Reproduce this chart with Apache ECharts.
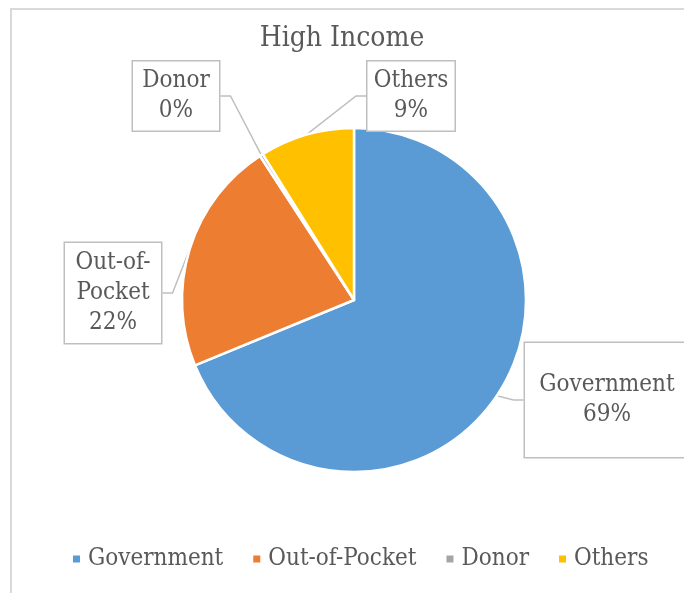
<!DOCTYPE html>
<html>
<head>
<meta charset="utf-8">
<script src="https://cdn.jsdelivr.net/npm/echarts@6/dist/echarts.min.js"></script>
<style>
html,body{margin:0;padding:0;background:#fff;}
#wrap{position:relative;width:684px;height:593px;overflow:hidden;}
#frame{position:absolute;left:10px;top:8px;width:700px;height:620px;border-left:2px solid #d9d9d9;border-top:2px solid #d9d9d9;box-sizing:border-box;}
#chart{position:absolute;left:0;top:0;width:684px;height:593px;}
</style>
</head>
<body>
<div id="wrap"><div id="frame"></div><div id="chart"></div></div>
<script>
var titleText = 'High Income';
var categories = ['Government', 'Out-of-Pocket', 'Donor', 'Others'];
var values = [68.8, 22.0, 0.3, 8.9];
var colors = ['#5B9BD5', '#ED7D31', '#A5A5A5', '#FFC000'];

var FONT = 'DejaVu Serif Condensed, DejaVu Serif';
var TXT = '#595959';
// callout boxes (center x, center y, width, height)
var boxes = [
  {cx: 607, cy: 400, w: 164, h: 114},
  {cx: 113, cy: 293, w: 96, h: 100},
  {cx: 176, cy: 96, w: 86, h: 69},
  {cx: 411, cy: 96, w: 87, h: 69}
];

var data = categories.map(function (c, i) {
  return {
    name: c,
    value: values[i],
    itemStyle: {color: colors[i]},
    label: {width: boxes[i].w, height: boxes[i].h}
  };
});

var chart = echarts.init(document.getElementById('chart'), null, {renderer: 'canvas'});
chart.setOption({
  backgroundColor: 'transparent',
  animation: false,
  textStyle: {fontFamily: FONT},
  title: {
    text: titleText,
    left: 'center',
    top: 20,
    textStyle: {fontFamily: FONT, fontSize: 28, fontWeight: 'normal', color: TXT}
  },
  legend: {
    bottom: 17,
    left: 66,
    itemWidth: 9,
    itemHeight: 9,
    itemGap: 28,
    icon: 'rect',
    textStyle: {fontFamily: FONT, fontSize: 24, color: TXT, padding: [0, 0, 0, 2]},
    data: categories
  },
  series: [{
    type: 'pie',
    center: [354, 300],
    radius: 172,
    startAngle: 90,
    clockwise: true,
    avoidLabelOverlap: false,
    itemStyle: {borderColor: '#fff', borderWidth: 2.5},
    label: {
      show: true,
      position: 'outside',
      formatter: function (p) {
        return p.name.replace('Out-of-', 'Out-of-\n') + '\n' + Math.round(p.percent) + '%';
      },
      fontFamily: FONT,
      fontSize: 24,
      lineHeight: 30,
      color: TXT,
      backgroundColor: '#fff',
      borderColor: '#bfbfbf',
      borderWidth: 1.5,
      align: 'center',
      verticalAlign: 'middle'
    },
    labelLine: {show: true, length: 10, length2: 10, lineStyle: {color: '#bfbfbf', width: 1.5}},
    labelLayout: function (params) {
      var b = boxes[params.dataIndex];
      return {x: b.cx, y: b.cy, align: 'center', verticalAlign: 'middle'};
    },
    data: data
  }]
});
</script>
</body>
</html>
